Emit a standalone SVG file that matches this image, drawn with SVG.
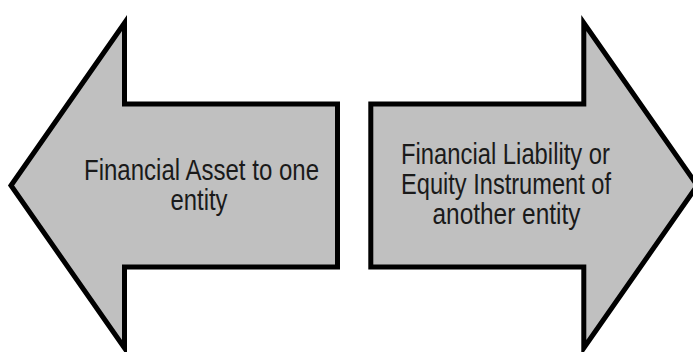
<svg xmlns="http://www.w3.org/2000/svg" width="693" height="352" viewBox="0 0 693 352">
<style>
.arrow{fill:#c0c0c0;stroke:#000;stroke-width:5;stroke-linejoin:miter;stroke-miterlimit:10}
.lbl{font-family:"Liberation Sans Narrow","Arial Narrow","Liberation Sans",Arial,sans-serif;font-size:29px;fill:#1a1a1a;text-anchor:middle}
</style>
<rect width="693" height="352" fill="#fff"/>
<g id="asset">
<polygon class="arrow" points="11,185.5 124.5,23 124.5,104 337.5,104 337.5,267 124.5,267 124.5,348"/>
<text class="lbl" x="201.5" y="179.5" textLength="235" lengthAdjust="spacingAndGlyphs">Financial Asset to one</text>
<text class="lbl" x="199" y="209.5" textLength="57" lengthAdjust="spacingAndGlyphs">entity</text>
</g>
<g id="liability">
<polygon class="arrow" points="697.3,185.5 583.8,23 583.8,104 370.8,104 370.8,267 583.8,267 583.8,348"/>
<text class="lbl" x="505.5" y="164.3" textLength="209" lengthAdjust="spacingAndGlyphs">Financial Liability or</text>
<text class="lbl" x="506" y="194.3" textLength="210" lengthAdjust="spacingAndGlyphs">Equity Instrument of</text>
<text class="lbl" x="506.5" y="224.3" textLength="148" lengthAdjust="spacingAndGlyphs">another entity</text>
</g>
</svg>
